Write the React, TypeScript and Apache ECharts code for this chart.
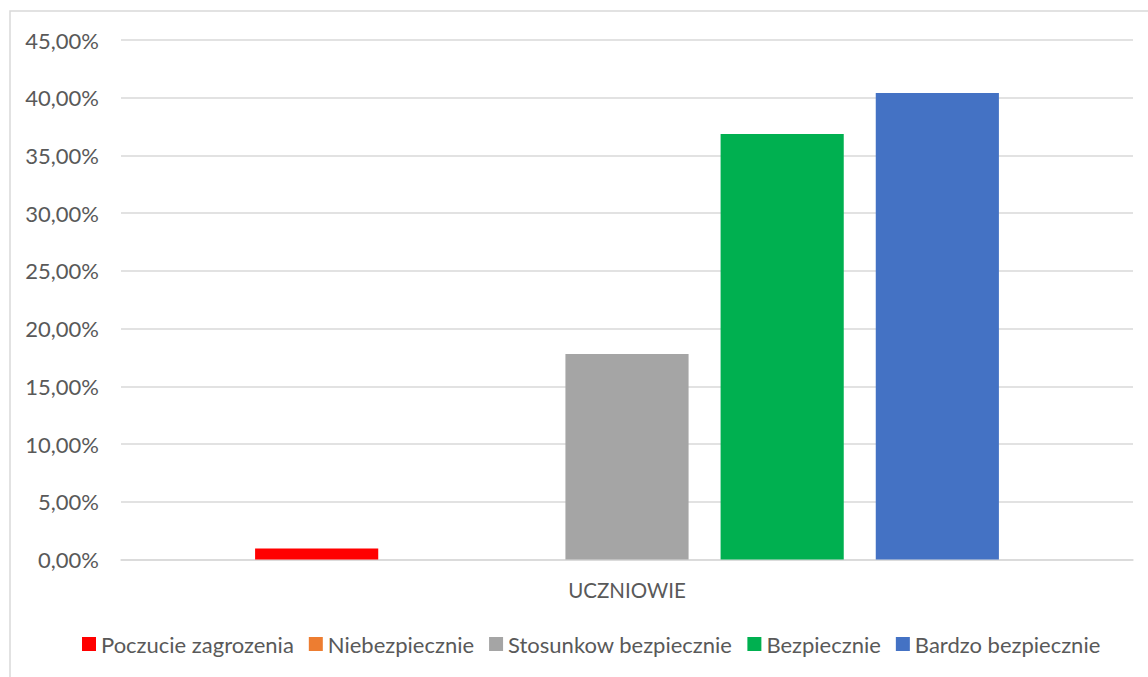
import React, { useEffect, useRef } from "react";
import * as echarts from "echarts";

const categories = ["UCZNIOWIE"];
const seriesNames = [
  "Poczucie zagrozenia",
  "Niebezpiecznie",
  "Stosunkow bezpiecznie",
  "Bezpiecznie",
  "Bardzo bezpiecznie",
];
const seriesValues = [0.95, 0, 17.8, 36.85, 40.4];
const seriesColors = ["#FF0000", "#ED7D31", "#A5A5A5", "#00B050", "#4472C4"];
const yTicks = [0, 5, 10, 15, 20, 25, 30, 35, 40, 45];

const FONT = "Lato";

export default function App() {
  const ref = useRef<HTMLDivElement>(null);
  useEffect(() => {
    if (!ref.current) return;
    const chart = echarts.init(ref.current, undefined, { renderer: "svg" });
    chart.setOption({
      animation: false,
      backgroundColor: "#ffffff",
      graphic: [
        {
          type: "rect",
          shape: { x: 10, y: 11, width: 1200, height: 700 },
          style: { fill: "none", stroke: "#d9d9d9", lineWidth: 1.5 },
          silent: true,
        },
      ],
      grid: { left: 121, right: 15, top: 40, bottom: 117.5, containLabel: false },
      legend: {
        data: seriesNames,
        left: 77,
        top: 628,
        itemWidth: 14,
        itemHeight: 14,
        itemGap: 15,
        icon: "rect",
        textStyle: { fontFamily: FONT, fontSize: 22, color: "#595959" },
      },
      xAxis: {
        type: "category",
        data: categories,
        axisLine: { lineStyle: { color: "#d9d9d9", width: 1.5 } },
        axisTick: { show: false },
        axisLabel: { fontFamily: FONT, fontSize: 20.5, color: "#595959", margin: 20 },
      },
      yAxis: {
        type: "value",
        min: yTicks[0],
        max: yTicks[yTicks.length - 1],
        interval: 5,
        axisLine: { show: false },
        axisTick: { show: false },
        splitLine: { lineStyle: { color: "#d9d9d9", width: 1.5 } },
        axisLabel: {
          fontFamily: FONT,
          fontSize: 22,
          color: "#595959",
          margin: 22,
          formatter: (v: number) => v.toFixed(2).replace(".", ",") + "%",
        },
      },
      series: seriesNames.map((name, i) => ({
        name,
        type: "bar",
        data: [seriesValues[i]],
        itemStyle: { color: seriesColors[i] },
        barGap: "26%",
        barCategoryGap: "26.5%",
      })),
    });
    return () => chart.dispose();
  }, []);
  return (
    <div
      ref={ref}
      style={{ position: "absolute", left: 0, top: 0, width: 1148, height: 677 }}
    />
  );
}
